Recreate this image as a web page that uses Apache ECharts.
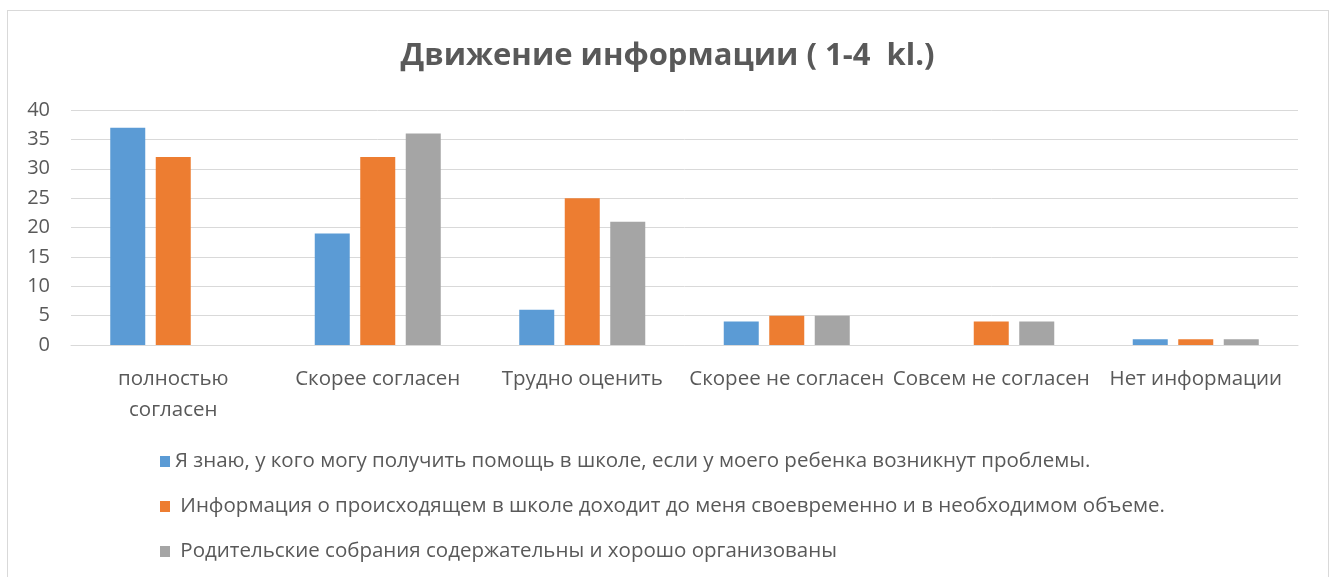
<!DOCTYPE html>
<html>
<head>
<meta charset="utf-8">
<script src="https://cdn.jsdelivr.net/npm/echarts@6/dist/echarts.min.js"></script>
<style>
  html, body { margin: 0; padding: 0; background: #fff; }
  #frame { position: absolute; left: 7px; top: 10px; width: 1320px; height: 580px; border: 1px solid #d9d9d9; }
  #chart { position: absolute; left: 0; top: 0; width: 1335px; height: 577px; }
</style>
</head>
<body>
<div id="frame"></div>
<div id="chart"></div>
<script>
// категории и значения
const categories = ['полностью\nсогласен', 'Скорее согласен', 'Трудно оценить', 'Скорее не согласен', 'Совсем не согласен', 'Нет информации']
const seriesNames = [
  'Я знаю, у кого могу получить помощь в школе, если у моего ребенка возникнут проблемы.',
  ' Информация о происходящем в школе доходит до меня своевременно и в необходимом объеме.',
  ' Родительские собрания содержательны и хорошо организованы'
]
const knowHelp = [37, 19, 6, 4, 0, 1]
const infoTimely = [32, 32, 25, 5, 4, 1]
const meetings = [0, 36, 21, 5, 4, 1]
const colors = ['#5B9BD5', '#ED7D31', '#A5A5A5']

const font = 'Open Sans'
const chart = echarts.init(document.getElementById('chart'))
const option = {
  animation: false,
  title: {
    text: 'Движение информации ( 1-4  kl.)',
    left: 'center',
    top: 36,
    textStyle: { fontFamily: font, fontSize: 31, fontWeight: 'bold', color: '#595959' }
  },
  legend: {
    orient: 'vertical',
    left: 155,
    top: 446,
    itemGap: 24,
    itemWidth: 10,
    itemHeight: 11,
    icon: 'rect',
    textStyle: { fontFamily: font, fontSize: 20.5, color: '#595959' },
    data: seriesNames
  },
  grid: { left: 71, right: 37, top: 110, bottom: 232 },
  xAxis: {
    type: 'category',
    data: categories,
    axisLine: { lineStyle: { color: '#d9d9d9' } },
    axisTick: { show: false },
    axisLabel: { fontFamily: font, fontSize: 20.5, color: '#595959', margin: 19, lineHeight: 31, interval: 0 }
  },
  yAxis: {
    type: 'value',
    min: 0,
    max: 40,
    interval: 5,
    axisLabel: { fontFamily: font, fontSize: 20, color: '#595959', margin: 21 },
    splitLine: { lineStyle: { color: '#d9d9d9' } }
  },
  series: [knowHelp, infoTimely, meetings].map((d, i) => ({
    name: seriesNames[i],
    type: 'bar',
    data: d,
    barWidth: 35,
    barGap: '30%',
    itemStyle: { color: colors[i] }
  }))
}
chart.setOption(option)
</script>
</body>
</html>
